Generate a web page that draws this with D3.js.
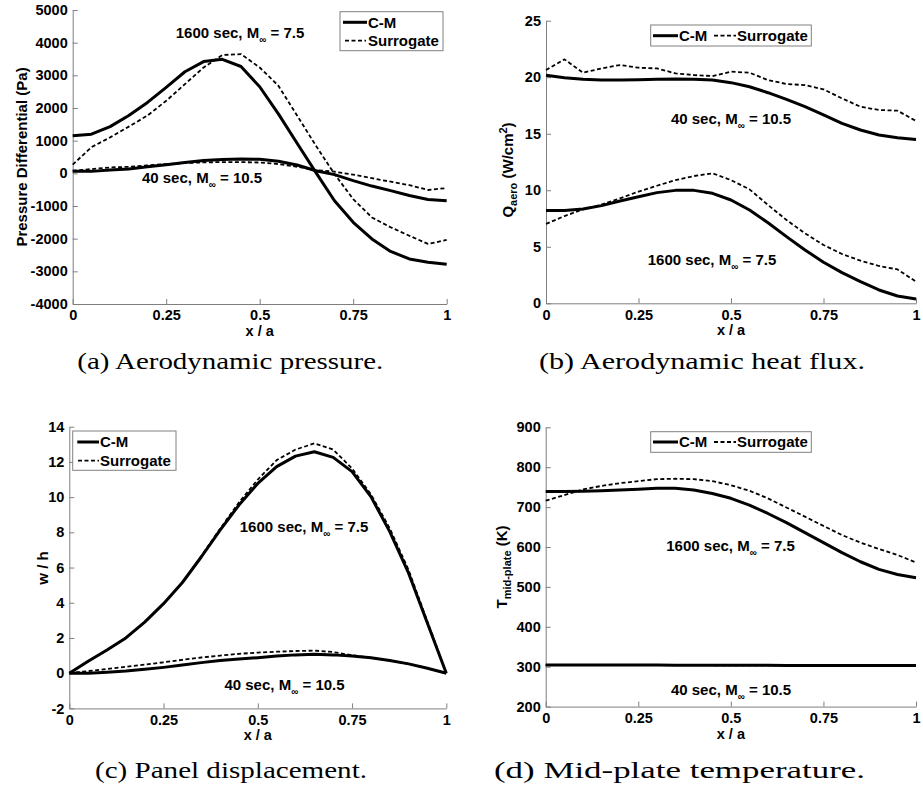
<!DOCTYPE html>
<html>
<head>
<meta charset="utf-8">
<script src="https://cdn.jsdelivr.net/npm/d3@7"></script>
<style>
  html, body { margin: 0; padding: 0; background: #fff; }
  svg { display: block; }
  .tick text { font-family: "Liberation Sans", Arial, sans-serif; font-weight: bold; font-size: 14.5px; fill: #000; }
  .tick line, .domain { stroke: #7f7f7f; }
</style>
</head>
<body>
<svg id="fig" width="923" height="789"></svg>
<script>
// ---- data -------------------------------------------------------------
const xGrid = [0, 0.05, 0.1, 0.15, 0.2, 0.25, 0.3, 0.35, 0.4, 0.45, 0.5,
               0.55, 0.6, 0.65, 0.7, 0.75, 0.8, 0.85, 0.9, 0.95, 1];

const xTicks = [0, 0.25, 0.5, 0.75, 1];
const xTickLabels = ["0", "0.25", "0.5", "0.75", "1"];

// (a) aerodynamic pressure differential, Pa
const pressureCM1600  = [1150, 1200, 1430, 1770, 2170, 2630, 3110, 3420, 3490, 3270, 2650,
                         1820, 920, 30, -840, -1500, -2010, -2390, -2620, -2720, -2780];
const pressureSur1600 = [265, 800, 1100, 1430, 1770, 2220, 2730, 3240, 3620, 3650, 3240,
                         2680, 1770, 850, -20, -790, -1350, -1650, -1910, -2160, -2040];
const pressureCM40    = [60, 60, 100, 130, 200, 265, 330, 390, 420, 440, 430,
                         370, 255, 80, -40, -225, -390, -530, -680, -800, -840];
const pressureSur40   = [80, 130, 180, 200, 245, 285, 315, 335, 345, 345, 330,
                         285, 200, 100, 50, -40, -150, -255, -360, -510, -450];
const pressureTicks = [-4000, -3000, -2000, -1000, 0, 1000, 2000, 3000, 4000, 5000];
const pressureTickLabels = ["-4000", "-3000", "-2000", "-1000", "0", "1000", "2000", "3000", "4000", "5000"];

// (b) aerodynamic heat flux, W/cm^2
const heatCM40    = [20.17, 19.96, 19.81, 19.75, 19.75, 19.78, 19.81, 19.84, 19.81, 19.75, 19.52,
                     19.16, 18.63, 18.04, 17.39, 16.66, 15.92, 15.33, 14.89, 14.65, 14.5];
const heatSur40   = [20.64, 21.58, 20.4, 20.78, 21.08, 20.84, 20.78, 20.34, 20.19, 20.1, 20.49,
                     20.4, 19.75, 19.4, 19.3, 18.93, 18.13, 17.39, 17.1, 17.04, 16.13];
const heatCM1600  = [8.2, 8.2, 8.34, 8.64, 9.05, 9.43, 9.79, 9.99, 9.99, 9.73, 9.14,
                     8.25, 7.13, 5.9, 4.72, 3.63, 2.71, 1.92, 1.18, 0.65, 0.38];
const heatSur1600 = [7.02, 7.72, 8.31, 8.73, 9.29, 9.88, 10.4, 10.9, 11.26, 11.5, 10.9,
                     10.08, 8.7, 7.37, 6.19, 5.16, 4.36, 3.77, 3.3, 3.0, 1.92];
const heatTicks = [0, 5, 10, 15, 20, 25];
const heatTickLabels = ["0", "5", "10", "15", "20", "25"];

// (c) panel displacement, w/h
const dispCM1600  = [0, 0.68, 1.32, 2.0, 2.9, 3.95, 5.15, 6.6, 8.13, 9.55, 10.78,
                     11.73, 12.33, 12.58, 12.26, 11.45, 10.03, 8.04, 5.68, 2.84, 0];
const dispSur1600 = [0, 0.68, 1.32, 2.0, 2.9, 3.95, 5.15, 6.65, 8.2, 9.7, 11.0,
                     12.1, 12.7, 13.05, 12.7, 11.63, 10.16, 8.23, 5.86, 2.93, 0];
const dispCM40    = [0, 0, 0.05, 0.12, 0.22, 0.33, 0.46, 0.6, 0.72, 0.8, 0.88,
                     0.97, 1.04, 1.07, 1.04, 0.97, 0.88, 0.72, 0.53, 0.28, 0];
const dispSur40   = [0, 0.12, 0.24, 0.36, 0.49, 0.62, 0.76, 0.89, 1.0, 1.1, 1.17,
                     1.22, 1.26, 1.28, 1.2, 1.02, 0.88, 0.72, 0.53, 0.28, 0];
const dispTicks = [-2, 0, 2, 4, 6, 8, 10, 12, 14];
const dispTickLabels = ["-2", "0", "2", "4", "6", "8", "10", "12", "14"];

// (d) mid-plate temperature, K
const tempCM1600  = [739, 739, 740, 741, 743, 745, 747, 747, 743, 734, 722,
                     705, 684, 661, 636, 611, 586, 563, 544, 531, 523];
const tempSur1600 = [716, 730, 744, 753, 760, 765, 770, 771, 770, 765, 755,
                     741, 722, 699, 676, 653, 630, 611, 595, 580, 561];
const tempCM40    = [304.5, 304.5, 304.4, 304.3, 304.2, 304.1, 304, 303.9, 303.8, 303.7, 303.6,
                     303.5, 303.4, 303.3, 303.3, 303.2, 303.2, 303.1, 303.1, 303, 303];
const tempSur40   = [304.3, 304.3, 304.2, 304.2, 304.1, 304, 304, 303.9, 303.8, 303.7, 303.6,
                     303.5, 303.4, 303.4, 303.3, 303.3, 303.2, 303.2, 303.1, 303.1, 303];
const tempTicks = [200, 300, 400, 500, 600, 700, 800, 900];
const tempTickLabels = ["200", "300", "400", "500", "600", "700", "800", "900"];

const legendNames = ["C-M", "Surrogate"];
const captions = ["(a) Aerodynamic pressure.", "(b) Aerodynamic heat flux.",
                  "(c) Panel displacement.", "(d) Mid-plate temperature."];

// ---- drawing ----------------------------------------------------------
const svg = d3.select("#fig");
const SANS = '"Liberation Sans", Arial, sans-serif';
const SERIF = '"Liberation Serif", "DejaVu Serif", serif';

// Writes "<time> sec, M∞ = <mach>" with the infinity sign as a subscript
function flightLabel(g, x, y, time, mach) {
  const t = g.append("text").attr("x", x).attr("y", y)
    .attr("text-anchor", "middle")
    .style("font-family", SANS).style("font-weight", "bold").style("font-size", "15px");
  t.append("tspan").text(`${time} sec, M`);
  t.append("tspan").attr("dy", 5).style("font-size", "10px").text("\u221E");
  t.append("tspan").attr("dy", -5).text(` = ${mach}`);
}

function drawPanel(p) {
  const g = svg.append("g");
  const x = d3.scaleLinear().domain([0, 1]).range([p.left, p.right]);
  const y = d3.scaleLinear().domain(p.yDomain).range([p.bottom, p.top]);

  const xAxis = d3.axisBottom(x).tickValues(xTicks)
    .tickFormat((d, i) => xTickLabels[i])
    .tickSizeInner(-5).tickSizeOuter(0).tickPadding(3);
  const yAxis = d3.axisLeft(y).tickValues(p.yTicks)
    .tickFormat((d, i) => p.yTickLabels[i])
    .tickSizeInner(-5).tickSizeOuter(0).tickPadding(5);

  g.append("g").attr("transform", `translate(0,${p.bottom})`).call(xAxis)
    .call(s => s.selectAll(".tick text").attr("dy", "0.93em"));
  g.append("g").attr("transform", `translate(${p.left},0)`).call(yAxis);

  // curves
  const line = d3.line().x((d, i) => x(xGrid[i])).y(d => y(d));
  p.series.forEach(s => {
    g.append("path").datum(s.values)
      .attr("fill", "none").attr("stroke", "#000")
      .attr("stroke-width", s.dashed ? 1.8 : 3)
      .attr("stroke-dasharray", s.dashed ? "4,2.5" : null)
      .attr("stroke-linejoin", "round")
      .attr("d", line);
  });

  // x-axis title
  g.append("text").attr("x", (p.left + p.right) / 2).attr("y", p.bottom + 32)
    .attr("text-anchor", "middle")
    .style("font-family", SANS).style("font-weight", "bold").style("font-size", "14.5px")
    .text("x / a");

  // y-axis title
  const yl = g.append("text")
    .attr("transform", `translate(${p.yLabelX},${p.yLabelY}) rotate(-90)`)
    .attr("text-anchor", "middle")
    .style("font-family", SANS).style("font-weight", "bold").style("font-size", "15px");
  p.yLabel(yl);

  // flight condition notes
  p.notes.forEach(n => flightLabel(g, n.x, n.y, n.time, n.mach));

  // legend
  const L = p.legend;
  g.append("rect").attr("x", L.x).attr("y", L.y).attr("width", L.w).attr("height", L.h)
    .attr("fill", "#fff").attr("stroke", "#808080").attr("stroke-width", 1);
  L.items.forEach((it, i) => {
    g.append("line").attr("x1", it.x1).attr("x2", it.x2).attr("y1", it.y).attr("y2", it.y)
      .attr("stroke", "#000").attr("stroke-width", i === 0 ? 3 : 1.8)
      .attr("stroke-dasharray", i === 0 ? null : "4,2.5");
    g.append("text").attr("x", it.tx).attr("y", it.y + 5.3)
      .style("font-family", SANS).style("font-weight", "bold").style("font-size", "15px")
      .text(legendNames[i]);
  });

  // caption
  svg.append("text").attr("x", p.cap.x).attr("y", p.cap.y)
    .attr("textLength", p.cap.w).attr("lengthAdjust", "spacingAndGlyphs")
    .style("font-family", SERIF).style("font-size", "24px")
    .text(p.cap.text);
}

drawPanel({
  left: 72.7, right: 446.7, top: 10, bottom: 304,
  yDomain: [-4000, 5000], yTicks: pressureTicks, yTickLabels: pressureTickLabels,
  series: [
    { values: pressureCM1600 }, { values: pressureSur1600, dashed: true },
    { values: pressureCM40 }, { values: pressureSur40, dashed: true }
  ],
  yLabelX: 27, yLabelY: 157,
  yLabel: t => t.text("Pressure Differential (Pa)"),
  notes: [
    { x: 240, y: 37.5, time: 1600, mach: "7.5" },
    { x: 202, y: 182.7, time: 40, mach: "10.5" }
  ],
  legend: { x: 340, y: 11.7, w: 103, h: 39,
    items: [ { x1: 343, x2: 367, tx: 368, y: 22.3 }, { x1: 345, x2: 366, tx: 368, y: 40.7 } ] },
  cap: { x: 77.3, y: 368.5, w: 306, text: captions[0] }
});

drawPanel({
  left: 546, right: 916, top: 20.7, bottom: 303.3,
  yDomain: [0, 25], yTicks: heatTicks, yTickLabels: heatTickLabels,
  series: [
    { values: heatCM40 }, { values: heatSur40, dashed: true },
    { values: heatCM1600 }, { values: heatSur1600, dashed: true }
  ],
  yLabelX: 513, yLabelY: 170,
  yLabel: t => {
    t.append("tspan").text("Q");
    t.append("tspan").attr("dy", 4).style("font-size", "11px").text("aero");
    t.append("tspan").attr("dy", -4).text(" (W/cm");
    t.append("tspan").attr("dy", -6).style("font-size", "11px").text("2");
    t.append("tspan").attr("dy", 6).text(")");
  },
  notes: [
    { x: 731, y: 124, time: 40, mach: "10.5" },
    { x: 712, y: 265, time: 1600, mach: "7.5" }
  ],
  legend: { x: 650.7, y: 25, w: 160.6, h: 21,
    items: [ { x1: 653, x2: 678, tx: 679, y: 35.7 }, { x1: 714, x2: 736, tx: 737, y: 35.7 } ] },
  cap: { x: 539, y: 368.5, w: 326, text: captions[1] }
});

drawPanel({
  left: 69.3, right: 446.3, top: 426.7, bottom: 708.4,
  yDomain: [-2, 14], yTicks: dispTicks, yTickLabels: dispTickLabels,
  series: [
    { values: dispCM1600 }, { values: dispSur1600, dashed: true },
    { values: dispCM40 }, { values: dispSur40, dashed: true }
  ],
  yLabelX: 48.3, yLabelY: 568,
  yLabel: t => t.text("w / h"),
  notes: [
    { x: 304, y: 532.3, time: 1600, mach: "7.5" },
    { x: 284.5, y: 690, time: 40, mach: "10.5" }
  ],
  legend: { x: 72.7, y: 431, w: 103.3, h: 39.3,
    items: [ { x1: 77.3, x2: 99, tx: 100, y: 442 }, { x1: 78, x2: 99, tx: 100, y: 460.7 } ] },
  cap: { x: 95, y: 778, w: 272, text: captions[2] }
});

drawPanel({
  left: 545.7, right: 916, top: 427.3, bottom: 706.6,
  yDomain: [200, 900], yTicks: tempTicks, yTickLabels: tempTickLabels,
  series: [
    { values: tempCM1600 }, { values: tempSur1600, dashed: true },
    { values: tempCM40 }, { values: tempSur40, dashed: true }
  ],
  yLabelX: 506.7, yLabelY: 567,
  yLabel: t => {
    t.append("tspan").text("T");
    t.append("tspan").attr("dy", 4).style("font-size", "11px").text("mid-plate");
    t.append("tspan").attr("dy", -4).text(" (K)");
  },
  notes: [
    { x: 730.5, y: 550.7, time: 1600, mach: "7.5" },
    { x: 731, y: 695, time: 40, mach: "10.5" }
  ],
  legend: { x: 650.7, y: 431.7, w: 160.6, h: 20.6,
    items: [ { x1: 653, x2: 678, tx: 679, y: 442 }, { x1: 714, x2: 736, tx: 737, y: 442 } ] },
  cap: { x: 494, y: 778, w: 371, text: captions[3] }
});
</script>
</body>
</html>
